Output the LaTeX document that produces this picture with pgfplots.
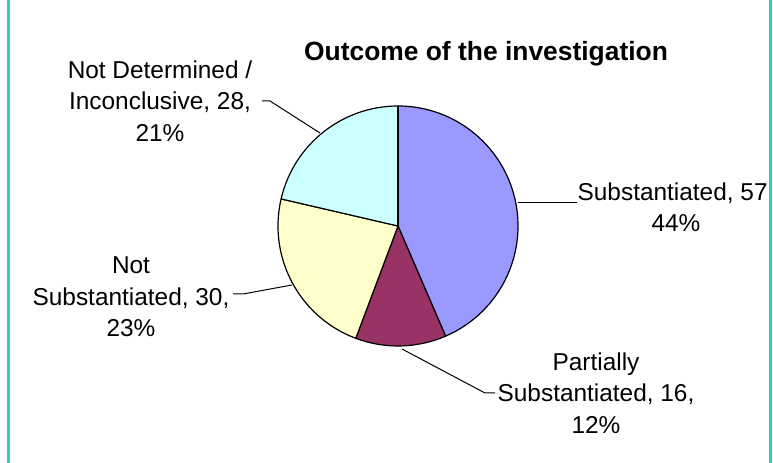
\documentclass[border=0pt]{standalone}
\usepackage{fontspec}
\setmainfont{Liberation Sans}
\usepackage{pgfplots}
\usepackage{pgfplotstable}
\pgfplotsset{compat=1.18}
\definecolor{pieBlue}{HTML}{9999FF}
\definecolor{pieMaroon}{HTML}{993366}
\definecolor{pieYellow}{HTML}{FFFFCC}
\definecolor{pieCyan}{HTML}{CCFFFF}
\definecolor{frameTeal}{HTML}{33CCCC}
\pgfplotstableread{
label value
Substantiated 57
Partially 16
NotSubstantiated 30
NotDetermined 28
}\pietable
\begin{document}
\begin{tikzpicture}
\pgfplotstablegetelem{0}{value}\of\pietable \edef\vA{\pgfplotsretval}
\pgfplotstablegetelem{1}{value}\of\pietable \edef\vB{\pgfplotsretval}
\pgfplotstablegetelem{2}{value}\of\pietable \edef\vC{\pgfplotsretval}
\pgfplotstablegetelem{3}{value}\of\pietable \edef\vD{\pgfplotsretval}
\pgfmathsetmacro\tot{\vA+\vB+\vC+\vD}
\pgfmathsetmacro\aO{90}
\pgfmathsetmacro\aA{\aO-360*(\vA/\tot)}
\pgfmathsetmacro\aB{\aA-360*(\vB/\tot)}
\pgfmathsetmacro\aC{\aB-360*(\vC/\tot)}
\pgfmathsetmacro\aD{\aC-360*(\vD/\tot)}
\begin{axis}[
  at={(0,0)}, anchor=south west,
  scale only axis, width=773bp, height=463bp,
  xmin=0, xmax=773, ymin=0, ymax=463,
  hide axis, clip=false,
]
\def\cx{398}\def\cy{237}\def\R{120bp}
\fill[pieBlue, draw=black, line width=1.2bp, line join=round]
  (axis cs:\cx,\cy) -- ++(\aO:\R) arc[start angle=\aO, end angle=\aA, radius=\R] -- cycle;
\fill[pieMaroon, draw=black, line width=1.2bp, line join=round]
  (axis cs:\cx,\cy) -- ++(\aA:\R) arc[start angle=\aA, end angle=\aB, radius=\R] -- cycle;
\fill[pieYellow, draw=black, line width=1.2bp, line join=round]
  (axis cs:\cx,\cy) -- ++(\aB:\R) arc[start angle=\aB, end angle=\aC, radius=\R] -- cycle;
\fill[pieCyan, draw=black, line width=1.2bp, line join=round]
  (axis cs:\cx,\cy) -- ++(\aC:\R) arc[start angle=\aC, end angle=\aD, radius=\R] -- cycle;
\draw[black, line width=2.6bp] (axis cs:\cx,\cy) -- ++(90:\R);
% leader lines
\draw[line width=1bp] (axis cs:518,260) -- (axis cs:577,260);
\draw[line width=1bp] (axis cs:402,114) -- (axis cs:485,70) -- (axis cs:495,70);
\draw[line width=1bp] (axis cs:233,169) -- (axis cs:243,169) -- (axis cs:292,178);
\draw[line width=1bp] (axis cs:262,362) -- (axis cs:270,362) -- (axis cs:320,330);
% labels
\begin{scope}[every node/.style={font=\fontsize{24.5}{31.5}\selectfont, align=center, inner sep=0pt}]
\node at (axis cs:676,256) {Substantiated, 57,\\44\%};
\node at (axis cs:596,70) {Partially\\Substantiated, 16,\\12\%};
\node at (axis cs:131,166) {Not\\Substantiated, 30,\\23\%};
\node at (axis cs:160,362) {Not Determined /\\Inconclusive, 28,\\21\%};
\end{scope}
\node[font=\bfseries\fontsize{26.5}{30}\selectfont, inner sep=0pt] at (axis cs:486,409) {Outcome of the investigation};
% frame
\draw[frameTeal, line width=3bp] (axis cs:8,0) -- (axis cs:8,463);
\fill[white] (axis cs:771,0) rectangle (axis cs:790,463);
\draw[frameTeal, line width=3bp] (axis cs:770,0) -- (axis cs:770,463);
\end{axis}
\pgfresetboundingbox
\useasboundingbox (0,0) rectangle (773bp,463bp);
\end{tikzpicture}
\end{document}
